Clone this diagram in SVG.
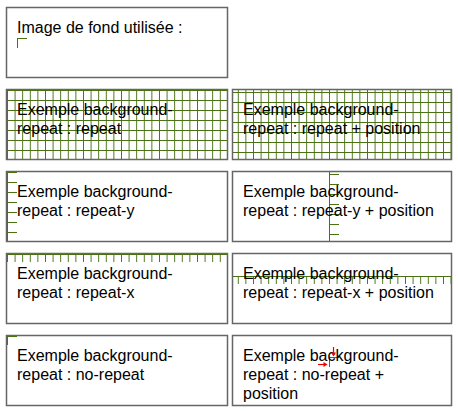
<svg xmlns="http://www.w3.org/2000/svg" width="458" height="412" viewBox="0 0 458 412">
<style>
.box{fill:#fff;stroke:#666;stroke-width:1.5}
.t{font-family:"Liberation Sans",Arial,sans-serif;font-size:16px;fill:#000}
.g{stroke:#4a7215;stroke-width:1;fill:none;shape-rendering:crispEdges}
.r{stroke:#e00;stroke-width:1.2;fill:none}
</style>
<defs>
<pattern id="gridA" patternUnits="userSpaceOnUse" x="7" y="90" width="7.6" height="10"><path class="g" d="M0 0.5H7.6M0.5 0V10"/></pattern>
<pattern id="gridB" patternUnits="userSpaceOnUse" x="329" y="92" width="7.6" height="10"><path class="g" d="M0 0.5H7.6M0.5 0V10"/></pattern>
<pattern id="tyA" patternUnits="userSpaceOnUse" x="7" y="172" width="10" height="10"><path class="g" d="M0 0.5H9.5"/></pattern>
<pattern id="tyB" patternUnits="userSpaceOnUse" x="329" y="174" width="10" height="10"><path class="g" d="M0 0.5H10"/></pattern>
<pattern id="txA" patternUnits="userSpaceOnUse" x="7" y="254" width="7.6" height="8"><path class="g" d="M0.5 0V8"/></pattern>
<pattern id="txB" patternUnits="userSpaceOnUse" x="329" y="276" width="7.6" height="8"><path class="g" d="M0.5 0V8"/></pattern>
</defs>

<g id="node-image">
<rect class="box" x="6.5" y="7.5" width="221" height="70"/>
<path class="g" d="M17 38.5H27M17.5 38V47.5"/>
<text class="t" x="17" y="32.5">Image de fond utilisée :</text>
</g>

<g id="node-repeat">
<rect class="box" x="6.5" y="89.5" width="221" height="70"/>
<rect x="7" y="90" width="220" height="69" fill="url(#gridA)"/>
<text class="t" x="17" y="114.5">Exemple background-</text>
<text class="t" x="17" y="133.5">repeat : repeat</text>
</g>

<g id="node-repeat-position">
<rect class="box" x="232.5" y="89.5" width="219" height="70"/>
<rect x="233" y="90" width="218" height="69" fill="url(#gridB)"/>
<text class="t" x="243" y="114.5">Exemple background-</text>
<text class="t" x="243" y="133.5">repeat : repeat + position</text>
</g>

<g id="node-repeat-y">
<rect class="box" x="6.5" y="171.5" width="221" height="70"/>
<path class="g" d="M7.5 172V241"/>
<rect x="7" y="172" width="10" height="69" fill="url(#tyA)"/>
<text class="t" x="17" y="196.5">Exemple background-</text>
<text class="t" x="17" y="215.5">repeat : repeat-y</text>
</g>

<g id="node-repeat-y-position">
<rect class="box" x="232.5" y="171.5" width="219" height="70"/>
<path class="g" d="M329.5 172V241"/>
<rect x="329" y="172" width="10" height="69" fill="url(#tyB)"/>
<text class="t" x="243" y="196.5">Exemple background-</text>
<text class="t" x="243" y="215.5">repeat : repeat-y + position</text>
</g>

<g id="node-repeat-x">
<rect class="box" x="6.5" y="253.5" width="221" height="70"/>
<path class="g" d="M7 254.5H227"/>
<rect x="7" y="254" width="220" height="8" fill="url(#txA)"/>
<text class="t" x="17" y="278.5">Exemple background-</text>
<text class="t" x="17" y="297.5">repeat : repeat-x</text>
</g>

<g id="node-repeat-x-position">
<rect class="box" x="232.5" y="253.5" width="219" height="70"/>
<path class="g" d="M233 276.5H451"/>
<rect x="233" y="276" width="218" height="8" fill="url(#txB)"/>
<text class="t" x="243" y="278.5">Exemple background-</text>
<text class="t" x="243" y="297.5">repeat : repeat-x + position</text>
</g>

<g id="node-no-repeat">
<rect class="box" x="6.5" y="335.5" width="221" height="70"/>
<path class="g" d="M7 336.5H17M7.5 336V345"/>
<text class="t" x="17" y="360.5">Exemple background-</text>
<text class="t" x="17" y="379.5">repeat : no-repeat</text>
</g>

<g id="node-no-repeat-position">
<rect class="box" x="232.5" y="335.5" width="219" height="70"/>
<path class="g" d="M329 357.5H339M329.5 357V367"/>
<text class="t" x="243" y="360.5">Exemple background-</text>
<text class="t" x="243" y="379.5">repeat : no-repeat +</text>
<text class="t" x="243" y="398.5">position</text>
<path class="r" d="M318 364.5H325"/>
<polygon points="327.5,364.5 323.5,362 323.5,367" fill="#e00"/>
<path class="r" d="M333.5 347V354"/>
<polygon points="333.5,356.5 331,352.5 336,352.5" fill="#e00"/>
</g>

<g id="connectors"></g>
</svg>
